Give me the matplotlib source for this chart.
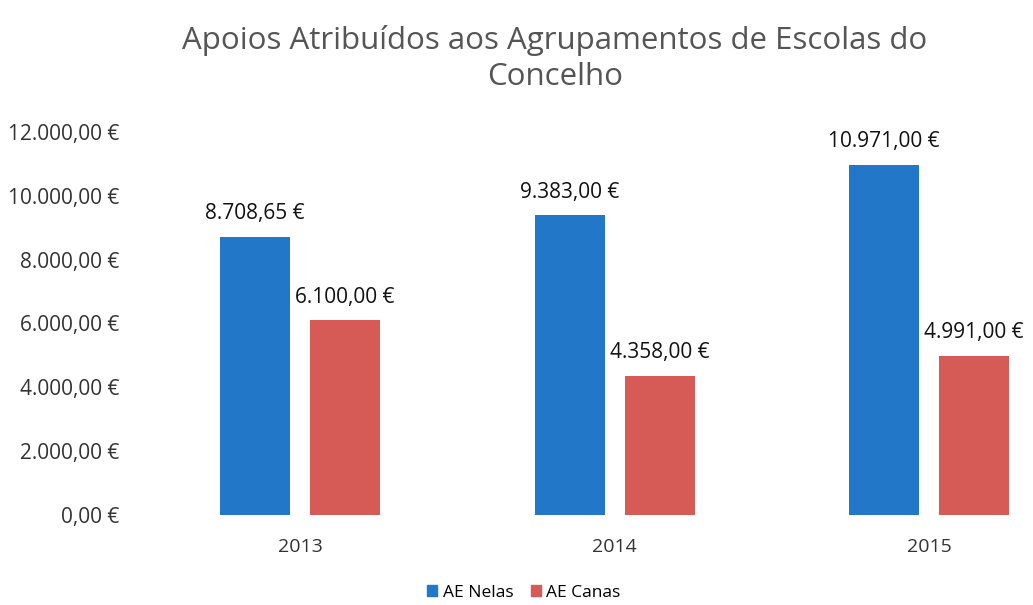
import matplotlib.pyplot as plt
import matplotlib.patches as mpatches
import numpy as np

plt.rcParams['font.family'] = ['Open Sans', 'DejaVu Sans']

years = ['2013', '2014', '2015']
ae_nelas = [8708.65, 9383.00, 10971.00]
ae_canas = [6100.00, 4358.00, 4991.00]
y_ticks = [0, 2000, 4000, 6000, 8000, 10000, 12000]

blue = '#2277C8'
red = '#D65A55'
text_grey = '#333333'


def euro(v):
    s = f"{v:,.2f}"
    s = s.replace(',', 'X').replace('.', ',').replace('X', '.')
    return s + " €"


fig = plt.figure(figsize=(10.33, 6.05), dpi=100)
ax = fig.add_axes([0.126, 0.149, 0.874, 0.633])

x = np.arange(len(years))
width = 0.222
offset = 0.143

b1 = ax.bar(x - offset, ae_nelas, width, color=blue)
b2 = ax.bar(x + offset, ae_canas, width, color=red)

for bars, vals in [(b1, ae_nelas), (b2, ae_canas)]:
    for rect, v in zip(bars, vals):
        ax.annotate(euro(v), (rect.get_x() + rect.get_width() / 2, v),
                    xytext=(0, 9), textcoords='offset points',
                    ha='center', va='bottom', fontsize=15, color='#111111')

ax.set_xlim(-0.54, 2.33)
ax.set_ylim(0, 12000)
ax.set_xticks(x)
ax.set_xticklabels(years, fontsize=14, color=text_grey)
ax.set_yticks(y_ticks)
ax.set_yticklabels([euro(t) for t in y_ticks], fontsize=15, color=text_grey)
ax.tick_params(axis='y', length=0, pad=8)
ax.tick_params(axis='x', length=0, pad=17)
for s in ax.spines.values():
    s.set_visible(False)

fig.text(0.537, 0.933, "Apoios Atribuídos aos Agrupamentos de Escolas do",
         ha='center', va='center', fontsize=22.5, color='#555555')
fig.text(0.537, 0.872, "Concelho",
         ha='center', va='center', fontsize=22.5, color='#555555')

blue_patch = mpatches.Patch(color=blue, label='AE Nelas')
red_patch = mpatches.Patch(color=red, label='AE Canas')
fig.legend(handles=[blue_patch, red_patch], loc='center', bbox_to_anchor=(0.507, 0.02),
           ncol=2, frameon=False, fontsize=12.5, handlelength=0.6, handleheight=0.6,
           handletextpad=0.3, columnspacing=1.0)

fig.savefig('out.png', dpi=100)
